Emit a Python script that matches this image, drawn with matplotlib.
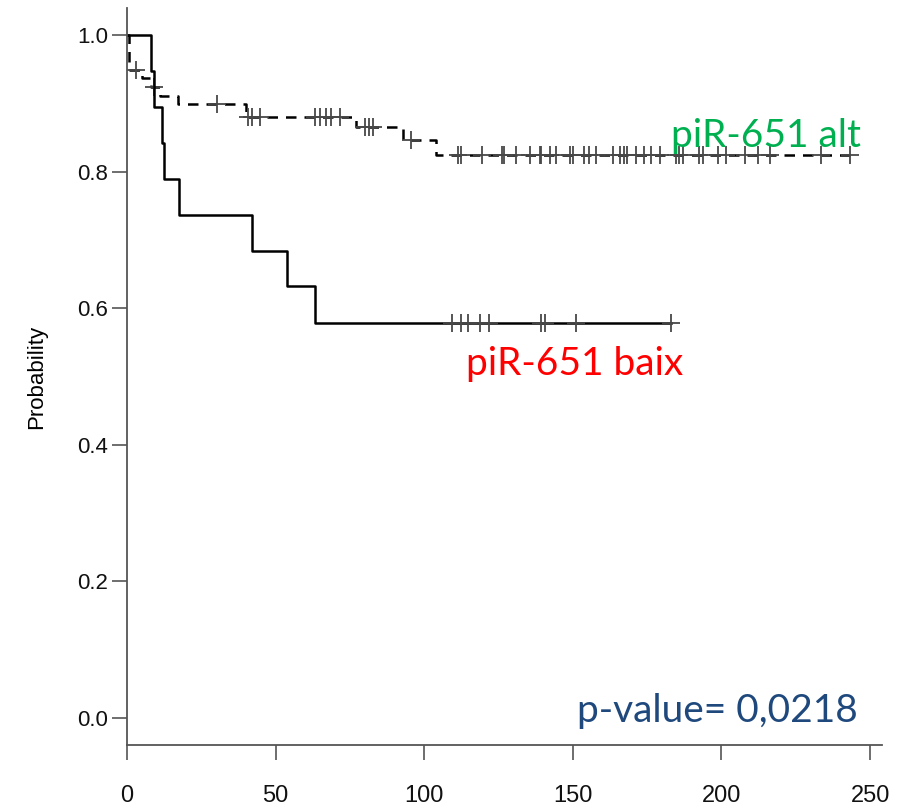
import numpy as np
import matplotlib
matplotlib.use("Agg")
import matplotlib.pyplot as plt

# Kaplan-Meier steps for the two groups (time, survival after the drop)
alt_times = [0.8, 5, 8, 11, 17, 40, 77, 93, 104]
alt_surv = [0.949, 0.937, 0.924, 0.911, 0.899, 0.880, 0.866, 0.846, 0.825]
alt_censor = [2.9, 9.2, 30.2, 40.8, 41.9, 44.7, 63.2, 64.9, 67.1, 68.8, 71.6,
              80.0, 81.5, 82.7, 95.7, 111.4, 112.5, 119.4, 126.0, 126.8, 131.0,
              135.7, 138.8, 139.4, 142.2, 144.2, 148.9, 150.0, 153.9, 155.4,
              157.7, 163.5, 166.0, 167.1, 168.2, 171.1, 174.1, 176.4, 179.2,
              184.8, 185.7, 187.0, 192.6, 193.7, 198.8, 201.6, 207.8, 212.3,
              216.2, 233.5, 243.1]

baix_times = [8.2, 9.1, 11.7, 12.5, 17.5, 41.9, 53.8, 63.2]
baix_surv = [0.947, 0.895, 0.842, 0.789, 0.737, 0.684, 0.632, 0.579]
baix_censor = [109.2, 112.5, 114.7, 118.7, 121.8, 139.4, 140.5, 151.0, 183.1]

xticks = [0, 50, 100, 150, 200, 250]
yticks = [0.0, 0.2, 0.4, 0.6, 0.8, 1.0]

label_alt = "piR-651 alt"
label_baix = "piR-651 baix"
pvalue_text = "p-value= 0,0218"


def km_curve(ax, times, surv, censor, **kw):
    t = np.array([0] + times + [max(censor)])
    s = np.array([1.0] + surv + [surv[-1]])
    ax.step(t, s, where="post", color="black", lw=1.8, **kw)
    # survival level at each censoring time
    levels = np.array([1.0] + surv)
    idx = np.searchsorted(np.array(times), censor, side="right")
    ax.plot(censor, levels[idx], ls="none", marker="+", ms=13, mew=1.3,
            color="#484848")


fig = plt.figure(figsize=(9.02, 8.11), dpi=100)
ax = fig.add_axes([0.1408, 0.081, 0.837, 0.9095])

km_curve(ax, alt_times, alt_surv, alt_censor, linestyle=(0, (4.2, 3.2)))
km_curve(ax, baix_times, baix_surv, baix_censor)

ax.set_xlim(0, 254)
ax.set_ylim(-0.04, 1.04)
ax.set_xticks(xticks)
ax.set_yticks(yticks)
ax.set_yticklabels([f"{v:.1f}" for v in yticks])

for side in ["top", "right"]:
    ax.spines[side].set_visible(False)
for side in ["left", "bottom"]:
    ax.spines[side].set_color("#555555")
    ax.spines[side].set_linewidth(1.3)

ax.tick_params(length=10.5, width=1.2, color="#555555", labelcolor="#111111")
ax.tick_params(axis="y", labelsize=16, pad=3)
ax.tick_params(axis="x", labelsize=17, pad=18)
for lab in ax.get_yticklabels() + ax.get_xticklabels():
    lab.set_family("Liberation Sans")

ax.set_ylabel("Probability", fontsize=16, family="Liberation Sans",
              labelpad=22)

ax.text(183, 0.836, label_alt, color="#00B050", fontsize=28, family="Lato",
        va="baseline")
ax.text(114, 0.502, label_baix, color="#FF0000", fontsize=28, family="Lato",
        va="baseline")
ax.text(151.5, -0.006, pvalue_text, color="#1F497D", fontsize=28,
        family="Lato", va="baseline")

fig.savefig("out.png", dpi=100)
